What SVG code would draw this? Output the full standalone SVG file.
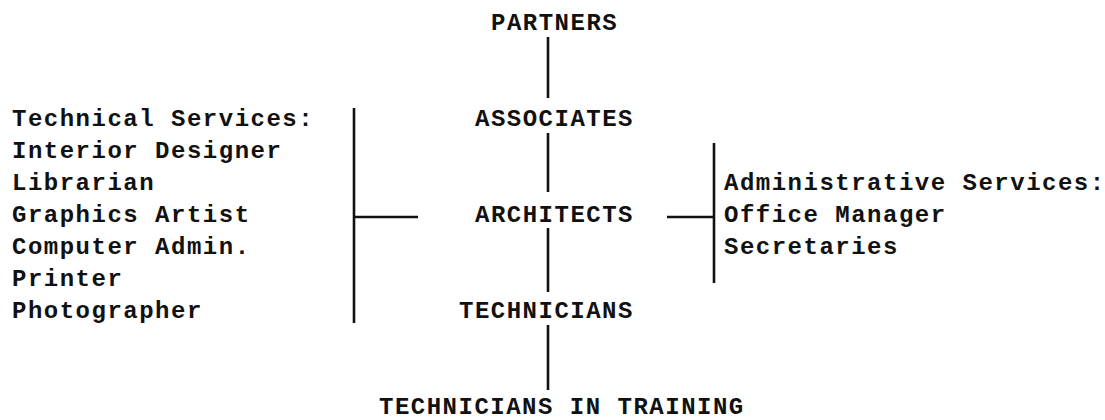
<svg xmlns="http://www.w3.org/2000/svg" width="1105" height="420" viewBox="0 0 1105 420">
<style>
  text { font-family: "Liberation Mono", "DejaVu Sans Mono", monospace; font-size: 24px; font-weight: bold; letter-spacing: 1.5px; fill: #111; }
  .ln { stroke: #111; stroke-width: 2.6; fill: none; stroke-linecap: butt; }
</style>
<rect width="1105" height="420" fill="#fff"/>
<g id="connectors">
  <line class="ln" x1="548" y1="37" x2="548" y2="98"/>
  <line class="ln" x1="548" y1="133" x2="548" y2="192"/>
  <line class="ln" x1="548" y1="228" x2="548" y2="292"/>
  <line class="ln" x1="548" y1="325" x2="548" y2="390"/>
  <line class="ln" x1="354" y1="108" x2="354" y2="323"/>
  <line class="ln" x1="354" y1="217" x2="418" y2="217"/>
  <line class="ln" x1="714" y1="143" x2="714" y2="283"/>
  <line class="ln" x1="667" y1="217" x2="714" y2="217"/>
</g>
<g id="partners"><text x="491" y="30">PARTNERS</text></g>
<g id="associates"><text x="475" y="126">ASSOCIATES</text></g>
<g id="architects"><text x="475" y="222">ARCHITECTS</text></g>
<g id="technicians"><text x="459" y="318">TECHNICIANS</text></g>
<g id="technicians-in-training"><text x="379" y="414">TECHNICIANS IN TRAINING</text></g>
<g id="technical-services">
  <text x="12" y="126">Technical Services:</text>
  <text x="12" y="158">Interior Designer</text>
  <text x="12" y="190">Librarian</text>
  <text x="12" y="222">Graphics Artist</text>
  <text x="12" y="254">Computer Admin.</text>
  <text x="12" y="286">Printer</text>
  <text x="12" y="318">Photographer</text>
</g>
<g id="administrative-services">
  <text x="724" y="190">Administrative Services:</text>
  <text x="724" y="222">Office Manager</text>
  <text x="724" y="254">Secretaries</text>
</g>
</svg>
